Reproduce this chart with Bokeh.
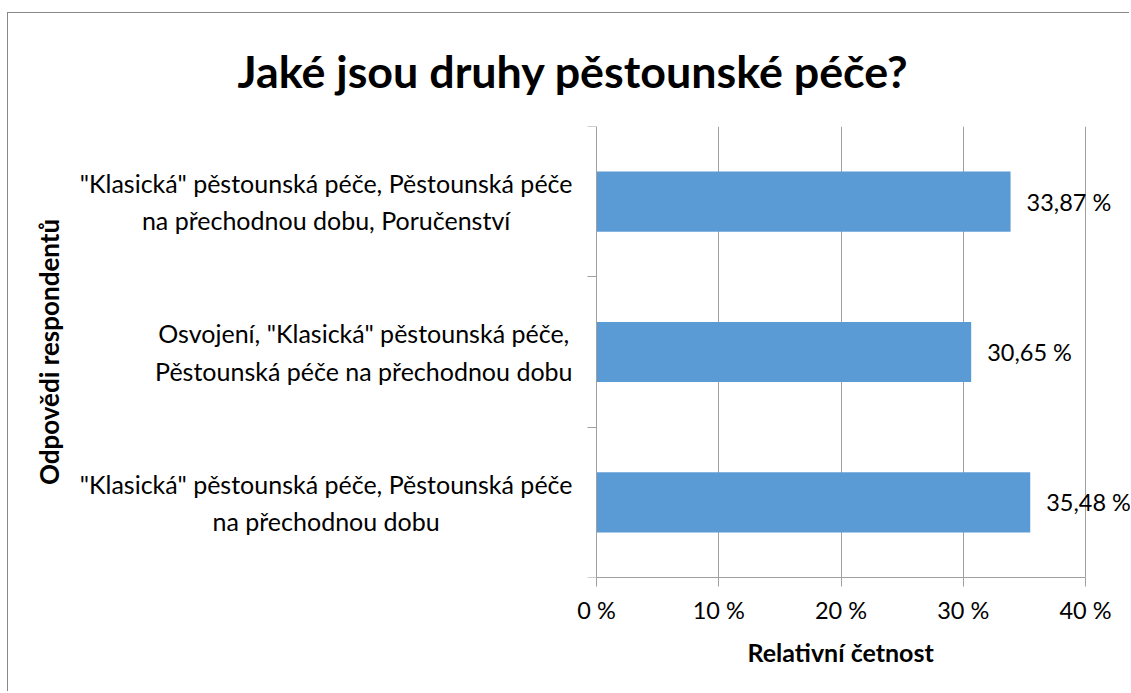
from bokeh.plotting import figure
from bokeh.models import Range1d, FixedTicker, ColumnDataSource, Title
from bokeh.embed import file_html
from bokeh.resources import INLINE
from bokeh.core.properties import value

# ---- data ----
categories = [
    '"Klasická" pěstounská péče, Pěstounská péče\nna přechodnou dobu, Poručenství',
    'Osvojení, "Klasická" pěstounská péče,\nPěstounská péče na přechodnou dobu',
    '"Klasická" pěstounská péče, Pěstounská péče\nna přechodnou dobu',
]
values = [33.87, 30.65, 35.48]
x_ticks = [0, 10, 20, 30, 40]
x_tick_labels = ["0 %", "10 %", "20 %", "30 %", "40 %"]
title_text = "Jaké jsou druhy pěstounské péče?"
x_title = "Relativní četnost"
y_title = "Odpovědi respondentů"

FONT = "Lato"
GRAY = "#a0a0a0"
BAR = "#5b9bd5"

pos = [i + 0.5 for i in range(len(categories))]
labels = [f"{v:.2f} %".replace(".", ",") for v in values]
src = ColumnDataSource(dict(y=pos, v=values, lab=labels))
cat_src = ColumnDataSource(dict(y=pos, x=[x_ticks[0]] * len(categories), cat=categories))

# layout (canvas pixels)
W, H = 1122, 679
FRAME_L, AXIS_X, AXIS_X40, TOP, BOTTOM_Y = 60, 588, 1077, 112, 564
PX = (AXIS_X40 - AXIS_X) / (x_ticks[-1] - x_ticks[0])
x_start = x_ticks[0] - (AXIS_X - FRAME_L) / PX
x_end = x_ticks[0] + (W - AXIS_X) / PX

p = figure(
    width=W, height=H,
    output_backend="svg", toolbar_location=None, tools="",
    x_range=Range1d(x_start, x_end), y_range=Range1d(len(categories), 0),
    min_border_left=FRAME_L, min_border_right=0, min_border_top=TOP,
    min_border_bottom=H - BOTTOM_Y,
    outline_line_color=None, title=None,
)
p.margin = (13, 0, 0, 8)
p.styles = {"box-shadow": "-1px -1px 0 0 #888888"}

p.add_layout(Title(text=title_text, align="left", offset=(237 - 8) - FRAME_L, text_font=FONT,
                   text_font_size="44.8px", text_font_style="bold", text_color="black",
                   standoff=57), "above")
p.add_layout(Title(text=y_title, align="center", text_font=FONT, text_font_size="26px",
                   text_font_style="bold", text_color="black", standoff=7), "left")

p.hbar(y="y", right="v", left=0, height=0.4, source=src, color=BAR, line_color=None)

# value labels
p.text(x="v", y="y", text="lab", source=src, x_offset=16, text_baseline="middle",
       text_align="left", text_font=value(FONT), text_font_size="23.5px", text_color="black")

# category labels: block right-aligned next to the axis, lines centred
p.text(x="x", y="y", text="cat", source=cat_src, x_offset=-24, anchor="center_right",
       text_align="center", text_baseline="middle", text_font=value(FONT),
       text_font_size="25px", text_line_height=1.24, text_color="black")

# x axis
xa = p.xaxis[0]
xa.ticker = FixedTicker(ticks=x_ticks, minor_ticks=[])
xa.bounds = (x_ticks[0], x_ticks[-1])
xa.major_label_overrides = {t_: l for t_, l in zip(x_ticks, x_tick_labels)}
xa.axis_line_color = GRAY
xa.major_tick_line_color = GRAY
xa.major_tick_out = 9
xa.major_tick_in = 0
xa.minor_tick_line_color = None
xa.major_label_text_font = FONT
xa.major_label_text_font_size = "23.5px"
xa.major_label_text_color = "black"
xa.major_label_standoff = 9

p.add_layout(Title(text=x_title, align="left", offset=(747 - 8) - FRAME_L, text_font=FONT,
                   text_font_size="25px", text_font_style="bold", text_color="black",
                   standoff=17), "below")

# y axis at x = 0 (boundary ticks only)
ya = p.yaxis[0]
ya.fixed_location = x_ticks[0]
ya.bounds = (0, len(categories))
ya.ticker = FixedTicker(ticks=[], minor_ticks=list(range(len(categories) + 1)))
ya.axis_line_color = GRAY
ya.major_tick_line_color = None
ya.major_tick_out = 0
ya.major_tick_in = 0
ya.minor_tick_line_color = GRAY
ya.minor_tick_out = 9
ya.minor_tick_in = 0
ya.major_label_text_font_size = "0px"

p.xgrid.ticker = FixedTicker(ticks=x_ticks)
p.xgrid.grid_line_color = GRAY
p.ygrid.grid_line_color = None

open("out.html", "w").write(file_html(p, INLINE))
